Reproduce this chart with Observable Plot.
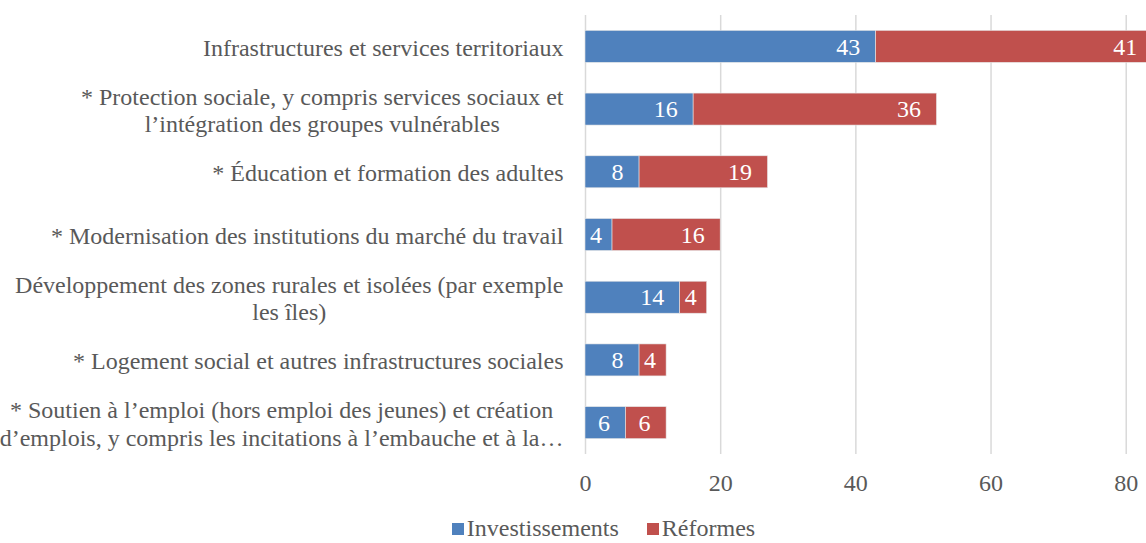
<!DOCTYPE html>
<html>
<head>
<meta charset="utf-8">
<script src="https://cdn.jsdelivr.net/npm/d3@7"></script>
<script src="https://cdn.jsdelivr.net/npm/@observablehq/plot@0.6"></script>
<style>
  html, body { margin: 0; padding: 0; background: #fff; }
  #legend { display: flex; justify-content: center; align-items: center; height: 30px;
    padding-top: 8px; padding-left: 61px; font-family: 'Liberation Serif'; font-size: 24px; color: #595959; }
  #legend .item { display: flex; align-items: center; margin: 0 14px; }
  #legend .sw { width: 12px; height: 12px; margin-right: 3px; margin-top: 1px; }
</style>
</head>
<body>
<div id="chart"></div>
<div id="legend"></div>
<script>
const categories = [
  "Infrastructures et services territoriaux",
  "* Protection sociale, y compris services sociaux et\nl\u2019int\u00e9gration des groupes vuln\u00e9rables",
  "* \u00c9ducation et formation des adultes",
  "* Modernisation des institutions du march\u00e9 du travail",
  "D\u00e9veloppement des zones rurales et isol\u00e9es (par exemple\nles \u00eeles)",
  "* Logement social et autres infrastructures sociales",
  "* Soutien \u00e0 l\u2019emploi (hors emploi des jeunes) et cr\u00e9ation\nd\u2019emplois, y compris les incitations \u00e0 l\u2019embauche et \u00e0 la\u2026"
];
const investissements = [43, 16, 8, 4, 14, 8, 6];
const reformes = [41, 36, 19, 16, 4, 4, 6];
const seriesNames = ["Investissements", "R\u00e9formes"];
const seriesColors = ["#4F81BD", "#C0504D"];
const xTicks = [0, 20, 40, 60, 80];

const seriesValues = [investissements, reformes];
const rows = [];
seriesNames.forEach((s, si) => {
  categories.forEach((c, ci) => rows.push({cat: c, series: s, value: seriesValues[si][ci]}));
});

const font = "'Liberation Serif'";
const narrow = v => v <= 4;

const chart = Plot.plot({
  width: 1146,
  height: 505,
  marginLeft: 585,
  marginRight: 0,
  marginTop: 15,
  marginBottom: 51,
  style: {fontFamily: font, fontSize: "24px", color: "#595959", background: "white"},
  x: {domain: [0, 83], ticks: xTicks, label: null},
  y: {domain: categories, paddingInner: 0.49, paddingOuter: 0.245, round: false, label: null},
  color: {domain: seriesNames, range: seriesColors},
  marks: [
    Plot.gridX(xTicks, {stroke: "#d9d9d9", strokeOpacity: 1, strokeWidth: 1.5}),
    Plot.barX(rows, {x: "value", y: "cat", z: "series", fill: "series", stroke: "#e6e6e6", strokeWidth: 0.6}),
    // labels near the inside end of each segment
    Plot.text(rows, Plot.stackX2({x: "value", y: "cat", z: "series",
      text: d => narrow(d.value) ? null : String(d.value),
      textAnchor: "end", dx: -16, fill: "white", fontSize: 24, fontFamily: font})),
    // labels of narrow segments stay inside the segment
    Plot.text(rows, Plot.stackX({x: "value", y: "cat", z: "series",
      text: d => narrow(d.value) ? String(d.value) : null,
      textAnchor: "middle", dx: -3, fill: "white", fontSize: 24, fontFamily: font})),
    Plot.axisX({ticks: xTicks, tickSize: 0, tickPadding: 19, fontSize: 24, fontFamily: font, fill: "#595959", label: null}),
    Plot.axisY({tickSize: 0, tickPadding: 22, fontSize: 24, fontFamily: font, fill: "#595959",
      lineHeight: 1.15, textAnchor: "end", label: null})
  ]
});

document.getElementById("chart").appendChild(chart);

// center multi-line tick labels as a block, keeping the block right-aligned
d3.select(chart).selectAll("g[aria-label='y-axis tick label'] text").each(function() {
  const tspans = Array.from(this.querySelectorAll("tspan"));
  if (tspans.length > 1) {
    const w = d3.max(tspans, t => t.getComputedTextLength());
    this.setAttribute("text-anchor", "middle");
    tspans.forEach(t => t.setAttribute("x", -w / 2));
  }
});

const legend = d3.select("#legend");
seriesNames.forEach((s, i) => {
  const item = legend.append("div").attr("class", "item");
  item.append("div").attr("class", "sw").style("background", seriesColors[i]);
  item.append("span").text(s);
});
</script>
</body>
</html>
